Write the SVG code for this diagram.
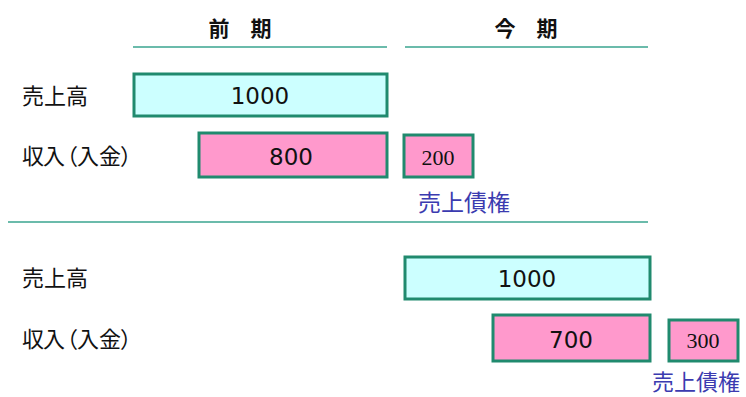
<svg xmlns="http://www.w3.org/2000/svg" width="746" height="397" viewBox="0 0 746 397">
<style>
.lbl{font-family:"Noto Sans CJK JP","Noto Sans",sans-serif;font-size:22px;fill:#111}
.hdr{font-family:"Noto Sans CJK JP",sans-serif;font-size:21px;fill:#111;font-weight:bold;text-anchor:middle}
.rule{stroke:#3aa58f;stroke-width:1.3}
.sales{fill:#ccffff;stroke:#208a6e;stroke-width:3}
.cash{fill:#ff99cc;stroke:#208a6e;stroke-width:3}
.num{font-family:"DejaVu Sans",sans-serif;font-size:23px;fill:#111;text-anchor:middle}
.numS{font-family:"Liberation Serif","Times New Roman",serif;font-size:22px;fill:#111;text-anchor:middle}
.ar{font-family:"Noto Sans CJK JP",sans-serif;font-size:23px;fill:#3b3bb0}
</style>
<g id="headers">
<text class="hdr" x="240" y="36">前　期</text>
<text class="hdr" x="526" y="36">今　期</text>
<line class="rule" x1="133" y1="47" x2="387" y2="47"/>
<line class="rule" x1="405" y1="47" x2="648" y2="47"/>
<line class="rule" x1="8" y1="222" x2="648" y2="222"/>
</g>
<g id="labels">
<text class="lbl" x="22" y="104">売上高</text>
<text class="lbl" x="22 43 56 77 99 120" y="164">収入（入金）</text>
<text class="lbl" x="22" y="286">売上高</text>
<text class="lbl" x="22 43 56 77 99 120" y="347">収入（入金）</text>
</g>
<g id="prev-sales"><rect class="sales" x="134" y="74" width="253" height="42"/><text class="num" x="260" y="104">1000</text></g>
<g id="prev-cash"><rect class="cash" x="199" y="133" width="188" height="44"/><text class="num" x="291" y="165">800</text></g>
<g id="prev-ar"><rect class="cash" x="404" y="135" width="69" height="42"/><text class="numS" x="438" y="165">200</text>
<text class="ar" x="418" y="211">売上債権</text></g>
<g id="cur-sales"><rect class="sales" x="405" y="257" width="245" height="42"/><text class="num" x="527" y="287">1000</text></g>
<g id="cur-cash"><rect class="cash" x="493" y="315" width="157" height="46"/><text class="num" x="571" y="348">700</text></g>
<g id="cur-ar"><rect class="cash" x="669" y="320" width="69" height="41"/><text class="numS" x="703" y="348">300</text>
<text class="ar" x="652" y="390" style="font-size:22px">売上債権</text></g>
<g id="connectors"/>
</svg>
